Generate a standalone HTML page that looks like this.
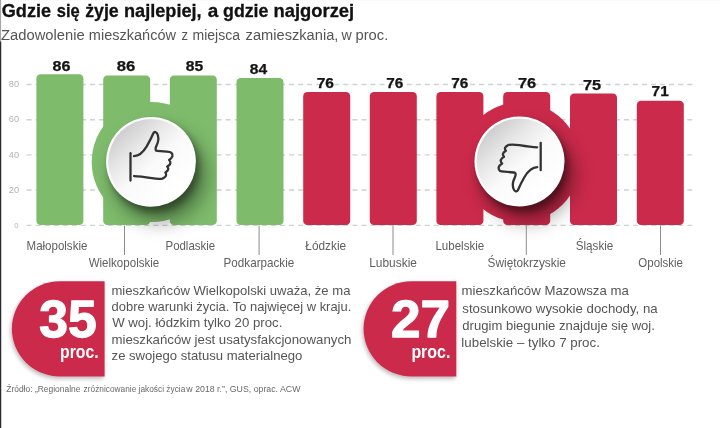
<!DOCTYPE html>
<html lang="pl">
<head>
<meta charset="utf-8">
<title>Gdzie się żyje najlepiej, a gdzie najgorzej</title>
<style>
  html, body { margin: 0; padding: 0; background: #ffffff; }
  body { width: 720px; height: 428px; overflow: hidden; font-family: "Liberation Sans", sans-serif; }
  svg { display: block; }
  text { font-family: "Liberation Sans", sans-serif; }
  .t  { font-weight: bold; fill: #111111; font-size: 18.6px; stroke: #111111; stroke-width: 0.3px; }
  .st { fill: #555555; font-size: 15.2px; }
  .ax { fill: #b2b2b2; font-size: 9.2px; }
  .v  { font-weight: bold; fill: #141414; font-size: 14px; stroke: #141414; stroke-width: 0.25px; }
  .lb { fill: #606060; font-size: 11.9px; }
  .bd { fill: #555555; font-size: 12.4px; }
  .src{ fill: #686868; font-size: 8.3px; }
  .big{ font-weight: bold; fill: #ffffff; font-size: 52px; stroke: #ffffff; stroke-width: 1.3px; stroke-linejoin: round; }
  .pr { font-weight: bold; fill: #ffffff; font-size: 18.5px; }
</style>
</head>
<body>
<svg width="720" height="428" viewBox="0 0 720 428">
  <defs>
    <linearGradient id="btn" x1="0.12" y1="0.1" x2="0.8" y2="0.85">
      <stop offset="0" stop-color="#c9c9c9"/>
      <stop offset="0.3" stop-color="#e6e6e6"/>
      <stop offset="0.58" stop-color="#fafafa"/>
      <stop offset="1" stop-color="#ffffff"/>
    </linearGradient>
    <filter id="blur" x="-50%" y="-50%" width="200%" height="200%">
      <feGaussianBlur stdDeviation="10"/>
    </filter>
    <filter id="blur2" x="-50%" y="-50%" width="200%" height="200%">
      <feGaussianBlur stdDeviation="3.5"/>
    </filter>
    <filter id="bsh" x="-20%" y="-20%" width="140%" height="140%">
      <feDropShadow dx="-1" dy="2.2" stdDeviation="2" flood-color="#000000" flood-opacity="0.28"/>
    </filter>
  </defs>

  <rect x="0" y="0" width="720" height="428" fill="#ffffff"/>
  <g opacity="0.999">

  <!-- left rule -->
  <rect x="0" y="0" width="720" height="1" fill="#fafafa"/>
  <rect x="0" y="0" width="1.1" height="41.5" fill="#a6a6a6"/>
  <rect x="0" y="41.5" width="1.25" height="386.5" fill="#2c2c2c"/>

  <!-- title -->
    <text class="t" x="1.76" y="17.2" textLength="49.34" lengthAdjust="spacingAndGlyphs">Gdzie</text>
    <text class="t" x="56.73" y="17.2" textLength="23.00" lengthAdjust="spacingAndGlyphs">się</text>
    <text class="t" x="85.14" y="17.2" textLength="33.59" lengthAdjust="spacingAndGlyphs">żyje</text>
    <text class="t" x="124.02" y="17.2" textLength="77.61" lengthAdjust="spacingAndGlyphs">najlepiej,</text>
    <text class="t" x="207.72" y="17.2" textLength="10.53" lengthAdjust="spacingAndGlyphs">a</text>
    <text class="t" x="223.06" y="17.2" textLength="45.40" lengthAdjust="spacingAndGlyphs">gdzie</text>
    <text class="t" x="273.62" y="17.2" textLength="80.56" lengthAdjust="spacingAndGlyphs">najgorzej</text>
    <text class="st" x="1.11" y="39.6" textLength="83.52" lengthAdjust="spacingAndGlyphs">Zadowolenie</text>
    <text class="st" x="88.85" y="39.6" textLength="87.10" lengthAdjust="spacingAndGlyphs">mieszkańców</text>
    <text class="st" x="181.46" y="39.6" textLength="6.52" lengthAdjust="spacingAndGlyphs">z</text>
    <text class="st" x="192.52" y="39.6" textLength="47.55" lengthAdjust="spacingAndGlyphs">miejsca</text>
    <text class="st" x="245.58" y="39.6" textLength="92.80" lengthAdjust="spacingAndGlyphs">zamieszkania,</text>
    <text class="st" x="341.38" y="39.6" textLength="10.22" lengthAdjust="spacingAndGlyphs">w</text>
    <text class="st" x="355.50" y="39.6" textLength="32.73" lengthAdjust="spacingAndGlyphs">proc.</text>

  <!-- grid -->
  <g stroke="#ccd4d4" stroke-width="1.35" stroke-dasharray="5 4.05" fill="none">
    <line x1="26.6" y1="84.5" x2="692.5" y2="84.5"/>
    <line x1="26.6" y1="119.7" x2="692.5" y2="119.7"/>
    <line x1="26.6" y1="154.8" x2="692.5" y2="154.8"/>
    <line x1="26.6" y1="190" x2="692.5" y2="190"/>
    <line x1="26.6" y1="225.4" x2="692.5" y2="225.4"/>
  </g>
  <g class="ax" text-anchor="end">
    <text x="19" y="87.2">80</text>
    <text x="19" y="122.3">60</text>
    <text x="19" y="157.5">40</text>
    <text x="19" y="192.7">20</text>
    <text x="18.6" y="227.6" font-size="7.6">0</text>
  </g>

  <!-- bars -->
  <g fill="#7ebc6c">
    <rect x="36.4" y="74.3" width="47" height="150.8" rx="4.2"/>
    <rect x="103.2" y="75.5" width="47" height="149.6" rx="4.2"/>
    <rect x="169.8" y="75.5" width="47" height="149.6" rx="4.2"/>
    <rect x="236.5" y="78" width="47" height="147.1" rx="4.2"/>
    <circle cx="151.7" cy="162" r="60"/>
  </g>
  <g fill="#cc2a4b">
    <rect x="303.2" y="92" width="47" height="133.1" rx="4.2"/>
    <rect x="369.8" y="92" width="47" height="133.1" rx="4.2"/>
    <rect x="436.4" y="92" width="47" height="133.1" rx="4.2"/>
    <rect x="503.2" y="92" width="47" height="133.1" rx="4.2"/>
    <rect x="570" y="93.5" width="47" height="131.6" rx="4.2"/>
    <rect x="636.8" y="100.7" width="47" height="124.4" rx="4.2"/>
    <circle cx="520.3" cy="162.1" r="60"/>
  </g>

  <!-- shadows -->
  <circle cx="159.5" cy="175.5" r="46" fill="#000000" opacity="0.4" filter="url(#blur)"/>
  <circle cx="154.5" cy="167.5" r="44.8" fill="#000000" opacity="0.36" filter="url(#blur2)"/>
  <circle cx="528" cy="175.1" r="46" fill="#000000" opacity="0.4" filter="url(#blur)"/>
  <circle cx="523" cy="167.1" r="45" fill="#000000" opacity="0.36" filter="url(#blur2)"/>

  <!-- buttons -->
  <circle cx="151" cy="161.8" r="44.9" fill="#ffffff"/>
  <circle cx="151" cy="161.8" r="42.8" fill="url(#btn)"/>
  <circle cx="519.5" cy="161.4" r="45" fill="#ffffff"/>
  <circle cx="519.5" cy="161.4" r="42.9" fill="url(#btn)"/>

  <!-- thumbs up -->
  <g id="thumb" fill="none" stroke="#333333" stroke-width="2.3" stroke-linecap="round" stroke-linejoin="round">
    <path d="M130.5 153.2 V180.6"/>
    <path d="M134 156.2 C139 156 143 152.5 146.7 146.4 C149.5 141.5 151.5 137.5 153.1 133.7 C154.2 131.2 156.8 131.4 157.9 135.2 C158.6 137.8 158.5 140 157.9 142 C157.2 144.5 156 146.3 155.7 148 C155.4 149.9 155.8 150.8 157.2 150.9 L166.9 151.7 C169 151.9 170.5 152.2 171.4 152.7 Q174.6 156.2 169.1 159.9 Q172.6 163.4 167.2 166.6 Q170 169.8 165.4 172.6 Q168 176 162.4 178.6 C158.5 179.2 155 178.7 151.9 178.2 C146 177.2 140 176.2 134 176.1"/>
  </g>
  <!-- thumbs down -->
  <use href="#thumb" transform="rotate(180 335.6 161.7)"/>

  <!-- values -->
  <g>
    <text class="v" x="52.54" y="70.5" textLength="17.89" lengthAdjust="spacingAndGlyphs">86</text>
    <text class="v" x="116.73" y="70.5" textLength="18.51" lengthAdjust="spacingAndGlyphs">86</text>
    <text class="v" x="185.68" y="70.5" textLength="17.45" lengthAdjust="spacingAndGlyphs">85</text>
    <text class="v" x="249.75" y="74.3" textLength="17.34" lengthAdjust="spacingAndGlyphs">84</text>
    <text class="v" x="316.71" y="88.3" textLength="17.25" lengthAdjust="spacingAndGlyphs">76</text>
    <text class="v" x="386.20" y="88.3" textLength="16.99" lengthAdjust="spacingAndGlyphs">76</text>
    <text class="v" x="451.20" y="88.3" textLength="17.07" lengthAdjust="spacingAndGlyphs">76</text>
    <text class="v" x="517.91" y="88.3" textLength="18.18" lengthAdjust="spacingAndGlyphs">76</text>
    <text class="v" x="582.91" y="89.5" textLength="18.15" lengthAdjust="spacingAndGlyphs">75</text>
    <text class="v" x="651.55" y="95.8" textLength="17.20" lengthAdjust="spacingAndGlyphs">71</text>
  </g>

  <!-- leader lines -->
  <g stroke="#8c8c8c" stroke-width="1">
    <line x1="124.5" y1="225.5" x2="124.5" y2="255"/>
    <line x1="259.1" y1="225.5" x2="259.1" y2="255"/>
    <line x1="393" y1="225.5" x2="393" y2="255"/>
    <line x1="526.3" y1="225.5" x2="526.3" y2="255"/>
    <line x1="660.5" y1="225.5" x2="660.5" y2="255"/>
  </g>

  <!-- region labels -->
  <g>
    <text class="lb" x="26.54" y="249.5" textLength="60.83" lengthAdjust="spacingAndGlyphs">Małopolskie</text>
    <text class="lb" x="88.64" y="266.6" textLength="70.63" lengthAdjust="spacingAndGlyphs">Wielkopolskie</text>
    <text class="lb" x="165.51" y="249.5" textLength="49.61" lengthAdjust="spacingAndGlyphs">Podlaskie</text>
    <text class="lb" x="223.54" y="266.6" textLength="70.72" lengthAdjust="spacingAndGlyphs">Podkarpackie</text>
    <text class="lb" x="305.36" y="249.5" textLength="40.81" lengthAdjust="spacingAndGlyphs">Łódzkie</text>
    <text class="lb" x="369.25" y="266.6" textLength="47.69" lengthAdjust="spacingAndGlyphs">Lubuskie</text>
    <text class="lb" x="435.39" y="249.5" textLength="48.86" lengthAdjust="spacingAndGlyphs">Lubelskie</text>
    <text class="lb" x="487.57" y="266.6" textLength="78.36" lengthAdjust="spacingAndGlyphs">Świętokrzyskie</text>
    <text class="lb" x="575.70" y="249.5" textLength="37.61" lengthAdjust="spacingAndGlyphs">Śląskie</text>
    <text class="lb" x="638.36" y="266.6" textLength="44.59" lengthAdjust="spacingAndGlyphs">Opolskie</text>
  </g>

  <!-- red badges -->
  <g fill="#cc2a4b" filter="url(#bsh)">
    <path d="M104.6 281.3 H59.4 A47.55 47.55 0 0 0 59.4 376.4 H104.6 Z"/>
    <path d="M456.3 281.3 H411.1 A47.55 47.55 0 0 0 411.1 376.4 H456.3 Z"/>
  </g>
    <text class="big" x="39.21" y="337.4" textLength="57.37" lengthAdjust="spacingAndGlyphs">35</text>
    <text class="big" x="391.07" y="337.4" textLength="59.01" lengthAdjust="spacingAndGlyphs">27</text>
    <text class="pr" x="60.03" y="357.5" textLength="38.61" lengthAdjust="spacingAndGlyphs">proc.</text>
    <text class="pr" x="411.39" y="357.5" textLength="38.99" lengthAdjust="spacingAndGlyphs">proc.</text>

  <!-- body text -->
  <g>
    <text class="bd" x="111.42" y="295.4" textLength="239.04" lengthAdjust="spacingAndGlyphs">mieszkańców Wielkopolski uważa, że ma</text>
    <text class="bd" x="111.58" y="311.3" textLength="239.67" lengthAdjust="spacingAndGlyphs">dobre warunki życia. To najwięcej w kraju.</text>
    <text class="bd" x="112.15" y="327.4" textLength="170.17" lengthAdjust="spacingAndGlyphs">W woj. łódzkim tylko 20 proc.</text>
    <text class="bd" x="111.42" y="343.9" textLength="239.97" lengthAdjust="spacingAndGlyphs">mieszkańców jest usatysfakcjonowanych</text>
    <text class="bd" x="111.58" y="360.3" textLength="190.83" lengthAdjust="spacingAndGlyphs">ze swojego statusu materialnego</text>
    <text class="bd" x="461.51" y="295.3" textLength="167.26" lengthAdjust="spacingAndGlyphs">mieszkańców Mazowsza ma</text>
    <text class="bd" x="462.29" y="312.6" textLength="195.38" lengthAdjust="spacingAndGlyphs">stosunkowo wysokie dochody, na</text>
    <text class="bd" x="462.34" y="329.8" textLength="192.56" lengthAdjust="spacingAndGlyphs">drugim biegunie znajduje się woj.</text>
    <text class="bd" x="461.36" y="346.8" textLength="138.54" lengthAdjust="spacingAndGlyphs">lubelskie – tylko 7 proc.</text>
  </g>

  <!-- source -->
    <text class="src" x="6.26" y="392.2" textLength="74.20" lengthAdjust="spacingAndGlyphs">Źródło: „Regionalne</text>
    <text class="src" x="83.61" y="392.2" textLength="101.65" lengthAdjust="spacingAndGlyphs">zróżnicowanie jakości życia</text>
    <text class="src" x="186.37" y="392.2" textLength="114.08" lengthAdjust="spacingAndGlyphs">w 2018 r.”, GUS, oprac. ACW</text>
  </g>
</svg>
</body>
</html>
